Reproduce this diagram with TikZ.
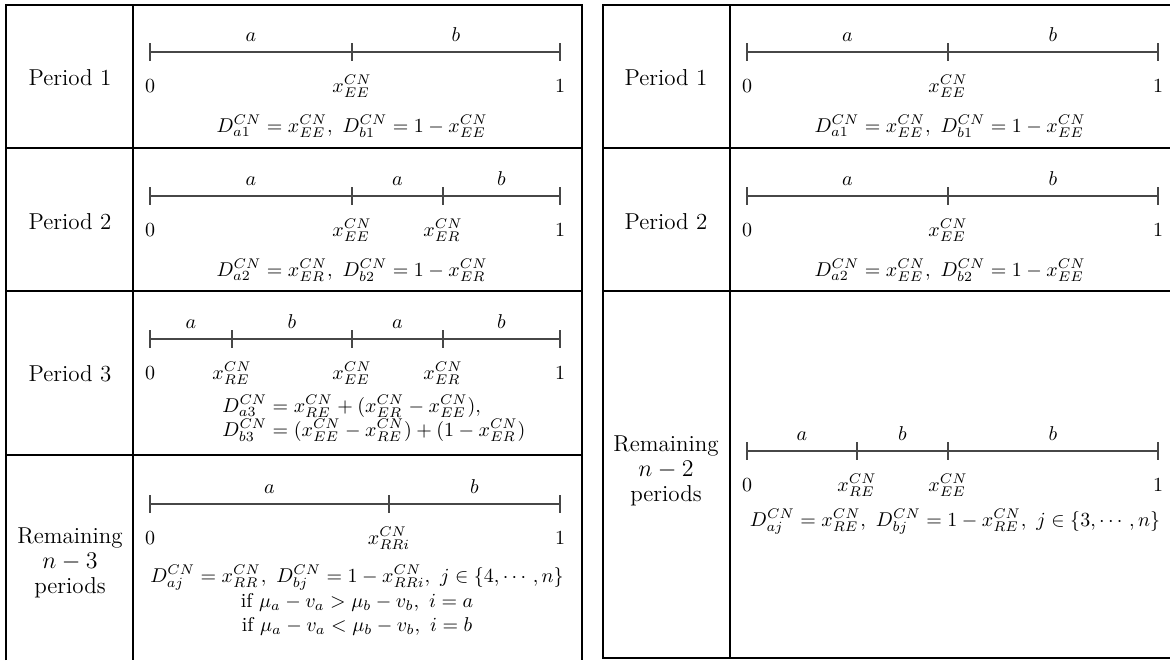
\documentclass[tikz,border=0pt]{standalone}
\usepackage{amsmath}
\usetikzlibrary{positioning}
\tikzset{
  frame/.style={line width=0.7pt,draw=black},
  numline/.style={line width=1pt,draw=black!72},
  tickmark/.style={line width=1pt,draw=black!72},
  seglabel/.style={above=4pt,inner sep=1pt},
  ptlabel/.style={anchor=base,inner sep=0pt},
  leftline/.style={anchor=base west,inner sep=0pt},
  rowlabel/.style={align=center,inner sep=0pt,font=\fontsize{11.5}{12.5}\selectfont}
}

\begin{document}
\begin{tikzpicture}[x=0.5pt,y=-0.5pt]
  \useasboundingbox (0,0) rectangle (1170,660);

  % left table
  \draw[frame] (6,660) -- (6,5) -- (582,5) -- (582,660);
  \draw[frame] (133,5) -- (133,660);
  \draw[frame] (6,148) -- (582,148) (6,291) -- (582,291) (6,455) -- (582,455);

  % right table
  \draw[frame] (1170,5) -- (603,5) -- (603,658) -- (1170,658);
  \draw[frame] (730,5) -- (730,658);
  \draw[frame] (603,148) -- (1170,148) (603,291) -- (1170,291);

  % left, period 1
  \node[rowlabel] (lp1) at (70,78) {Period 1};
  \coordinate (l1s) at (150,52);
  \coordinate (l1m) at (352,52);
  \coordinate (l1e) at (560,52);
  \draw[numline] (l1s) -- node[seglabel] (l1a) {$a$} (l1m) -- node[seglabel] (l1b) {$b$} (l1e);
  \node[ptlabel] (l1z) at ([yshift=-20pt]l1s) {$0$};
  \node[ptlabel] (l1x) at ([yshift=-20pt]l1m) {$x^{CN}_{EE}$};
  \node[ptlabel] (l1o) at ([yshift=-20pt]l1e) {$1$};
  \node[ptlabel] (l1d) at (352,132) {$D^{CN}_{a1}=x^{CN}_{EE},\ D^{CN}_{b1}=1-x^{CN}_{EE}$};

  % left, period 2
  \node[rowlabel] (lp2) at (70,222) {Period 2};
  \coordinate (l2s) at (150,196);
  \coordinate (l2m) at (352,196);
  \coordinate (l2n) at (443,196);
  \coordinate (l2e) at (560,196);
  \draw[numline] (l2s) -- node[seglabel] (l2a) {$a$} (l2m) -- node[seglabel] (l2b) {$a$} (l2n)
    -- node[seglabel] (l2c) {$b$} (l2e);
  \node[ptlabel] (l2z) at ([yshift=-20pt]l2s) {$0$};
  \node[ptlabel] (l2x) at ([yshift=-20pt]l2m) {$x^{CN}_{EE}$};
  \node[ptlabel] (l2y) at ([yshift=-20pt]l2n) {$x^{CN}_{ER}$};
  \node[ptlabel] (l2o) at ([yshift=-20pt]l2e) {$1$};
  \node[ptlabel] (l2d) at (352,276) {$D^{CN}_{a2}=x^{CN}_{ER},\ D^{CN}_{b2}=1-x^{CN}_{ER}$};

  % left, period 3
  \node[rowlabel] (lp3) at (70,374) {Period 3};
  \coordinate (l3s) at (150,339);
  \coordinate (l3k) at (232,339);
  \coordinate (l3m) at (352,339);
  \coordinate (l3n) at (443,339);
  \coordinate (l3e) at (560,339);
  \draw[numline] (l3s) -- node[seglabel] (l3a) {$a$} (l3k) -- node[seglabel] (l3b) {$b$} (l3m)
    -- node[seglabel] (l3c) {$a$} (l3n) -- node[seglabel] (l3d) {$b$} (l3e);
  \node[ptlabel] (l3z) at ([yshift=-20pt]l3s) {$0$};
  \node[ptlabel] (l3w) at ([yshift=-20pt]l3k) {$x^{CN}_{RE}$};
  \node[ptlabel] (l3x) at ([yshift=-20pt]l3m) {$x^{CN}_{EE}$};
  \node[ptlabel] (l3y) at ([yshift=-20pt]l3n) {$x^{CN}_{ER}$};
  \node[ptlabel] (l3o) at ([yshift=-20pt]l3e) {$1$};
  \node[leftline] (l3f) at (222,412) {$D^{CN}_{a3}=x^{CN}_{RE}+(x^{CN}_{ER}-x^{CN}_{EE}),$};
  \node[leftline] (l3g) at (222,436) {$D^{CN}_{b3}=(x^{CN}_{EE}-x^{CN}_{RE})+(1-x^{CN}_{ER})$};

  % left, remaining n-3 periods
  \node[rowlabel] (lp4) at (70,563) {Remaining\\$n-3$\\periods};
  \coordinate (l4s) at (150,504);
  \coordinate (l4m) at (389,504);
  \coordinate (l4e) at (560,504);
  \draw[numline] (l4s) -- node[seglabel] (l4a) {$a$} (l4m) -- node[seglabel] (l4b) {$b$} (l4e);
  \node[ptlabel] (l4z) at ([yshift=-20pt]l4s) {$0$};
  \node[ptlabel] (l4x) at ([yshift=-20pt]l4m) {$x^{CN}_{RRi}$};
  \node[ptlabel] (l4o) at ([yshift=-20pt]l4e) {$1$};
  \node[ptlabel] (l4d) at (357,582) {$D^{CN}_{aj}=x^{CN}_{RR},\ D^{CN}_{bj}=1-x^{CN}_{RRi},\ j\in\{4,\cdots,n\}$};
  \node[ptlabel] (l4f) at (357,607) {if $\mu_a-v_a>\mu_b-v_b,\ i=a$};
  \node[ptlabel] (l4g) at (357,631) {if $\mu_a-v_a<\mu_b-v_b,\ i=b$};

  % right, period 1
  \node[rowlabel] (rp1) at (666,78) {Period 1};
  \coordinate (r1s) at (747,52);
  \coordinate (r1m) at (948,52);
  \coordinate (r1e) at (1158,52);
  \draw[numline] (r1s) -- node[seglabel] (r1a) {$a$} (r1m) -- node[seglabel] (r1b) {$b$} (r1e);
  \node[ptlabel] (r1z) at ([yshift=-20pt]r1s) {$0$};
  \node[ptlabel] (r1x) at ([yshift=-20pt]r1m) {$x^{CN}_{EE}$};
  \node[ptlabel] (r1o) at ([yshift=-20pt]r1e) {$1$};
  \node[ptlabel] (r1d) at (950,132) {$D^{CN}_{a1}=x^{CN}_{EE},\ D^{CN}_{b1}=1-x^{CN}_{EE}$};

  % right, period 2
  \node[rowlabel] (rp2) at (666,222) {Period 2};
  \coordinate (r2s) at (747,196);
  \coordinate (r2m) at (948,196);
  \coordinate (r2e) at (1158,196);
  \draw[numline] (r2s) -- node[seglabel] (r2a) {$a$} (r2m) -- node[seglabel] (r2b) {$b$} (r2e);
  \node[ptlabel] (r2z) at ([yshift=-20pt]r2s) {$0$};
  \node[ptlabel] (r2x) at ([yshift=-20pt]r2m) {$x^{CN}_{EE}$};
  \node[ptlabel] (r2o) at ([yshift=-20pt]r2e) {$1$};
  \node[ptlabel] (r2d) at (950,276) {$D^{CN}_{a2}=x^{CN}_{EE},\ D^{CN}_{b2}=1-x^{CN}_{EE}$};

  % right, remaining n-2 periods
  \node[rowlabel] (rp3) at (666,471) {Remaining\\$n-2$\\periods};
  \coordinate (r3s) at (747,451);
  \coordinate (r3k) at (857,451);
  \coordinate (r3m) at (948,451);
  \coordinate (r3e) at (1158,451);
  \draw[numline] (r3s) -- node[seglabel] (r3a) {$a$} (r3k) -- node[seglabel] (r3b) {$b$} (r3m)
    -- node[seglabel] (r3c) {$b$} (r3e);
  \node[ptlabel] (r3z) at ([yshift=-20pt]r3s) {$0$};
  \node[ptlabel] (r3w) at ([yshift=-20pt]r3k) {$x^{CN}_{RE}$};
  \node[ptlabel] (r3x) at ([yshift=-20pt]r3m) {$x^{CN}_{EE}$};
  \node[ptlabel] (r3o) at ([yshift=-20pt]r3e) {$1$};
  \node[ptlabel] (r3d) at (955,526) {$D^{CN}_{aj}=x^{CN}_{RE},\ D^{CN}_{bj}=1-x^{CN}_{RE},\ j\in\{3,\cdots,n\}$};

  % ticks
  \foreach \t in {l1s,l1m,l1e,l2s,l2m,l2n,l2e,l3s,l3k,l3m,l3n,l3e,l4s,l4m,l4e,
                  r1s,r1m,r1e,r2s,r2m,r2e,r3s,r3k,r3m,r3e}
    \draw[tickmark] ([yshift=4.5pt]\t) -- ([yshift=-4.5pt]\t);
\end{tikzpicture}
\end{document}
